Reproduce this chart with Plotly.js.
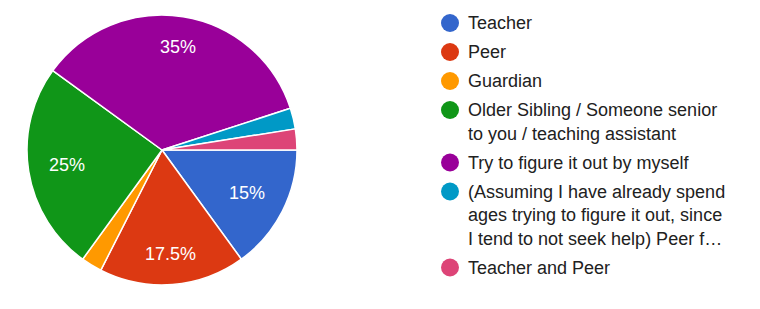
<!DOCTYPE html>
<html>
<head>
<meta charset="utf-8">
<script src="https://cdn.plot.ly/plotly-3.0.1.min.js"></script>
<style>html,body{margin:0;padding:0;background:#fff;}#chart{width:760px;height:309px;}</style>
</head>
<body>
<div id="chart"></div>
<script>
const categories = [
  "Teacher",
  "Peer",
  "Guardian",
  "Older Sibling / Someone senior to you / teaching assistant",
  "Try to figure it out by myself",
  "(Assuming I have already spend ages trying to figure it out, since I tend to not seek help) Peer f…",
  "Teacher and Peer"
];
const legendLines = [
  ["Teacher"],
  ["Peer"],
  ["Guardian"],
  ["Older Sibling / Someone senior", "to you / teaching assistant"],
  ["Try to figure it out by myself"],
  ["(Assuming I have already spend", "ages trying to figure it out, since", "I tend to not seek help) Peer f…"],
  ["Teacher and Peer"]
];
const responses = [6, 7, 1, 10, 14, 1, 1];
const colors = ["#3366cc", "#dc3912", "#ff9900", "#109618", "#990099", "#0099c6", "#dd4477"];

const W = 760, H = 309;
const CX = 162, CY = 150, R = 135;
const FONT = 'Arial, "Liberation Sans", sans-serif';
const total = responses.reduce((a, b) => a + b, 0);

const pie = {
  type: 'pie',
  labels: categories,
  values: responses,
  sort: false,
  direction: 'clockwise',
  rotation: 90,
  marker: { colors: colors, line: { color: '#ffffff', width: 1.5 } },
  textinfo: 'none',
  hoverinfo: 'label+percent',
  showlegend: false,
  domain: { x: [(CX - R) / W, (CX + R) / W], y: [1 - (CY + R) / H, 1 - (CY - R) / H] }
};

const annotations = [];
const shapes = [];

// percentage labels, placed along each slice's bisector (derived from data)
let cum = 0;
responses.forEach((v, i) => {
  const frac = v / total;
  const mid = cum + frac / 2;
  cum += frac;
  if (frac < 0.05) return;
  const label = (Math.round(frac * 1000) / 10) + '%';
  const a = (90 + mid * 360) * Math.PI / 180;
  const digits = label.replace(/[^0-9]/g, '').length;
  const dots = label.replace(/[^.]/g, '').length;
  const hw = (digits * 10 + dots * 5 + 16) / 2, hh = 8;
  const d = 0.85 * R - (Math.abs(Math.sin(a)) * hw + Math.abs(Math.cos(a)) * hh);
  annotations.push({
    xref: 'paper', yref: 'paper',
    x: (CX + d * Math.sin(a)) / W, y: 1 - (CY - d * Math.cos(a)) / H,
    xanchor: 'center', yanchor: 'middle', showarrow: false, text: label,
    font: { family: FONT, size: 18, color: '#ffffff' }
  });
});

// legend
let y = 23;
legendLines.forEach((lines, i) => {
  shapes.push({
    type: 'circle', xref: 'paper', yref: 'paper',
    x0: (450 - 9) / W, x1: (450 + 9) / W,
    y0: 1 - (y + 9) / H, y1: 1 - (y - 9) / H,
    fillcolor: colors[i], line: { width: 0 }
  });
  lines.forEach((t, j) => {
    annotations.push({
      xref: 'paper', yref: 'paper', x: 466 / W, y: 1 - y / H,
      xanchor: 'left', yanchor: 'middle', showarrow: false, text: t,
      font: { family: FONT, size: 18, color: '#212121' }
    });
    if (j < lines.length - 1) y += 23.5;
  });
  y += 29;
});

Plotly.newPlot('chart', [pie], {
  width: W, height: H,
  margin: { l: 0, r: 0, t: 0, b: 0 },
  paper_bgcolor: '#ffffff',
  annotations: annotations,
  shapes: shapes
}, { displayModeBar: false, staticPlot: true });
</script>
</body>
</html>
